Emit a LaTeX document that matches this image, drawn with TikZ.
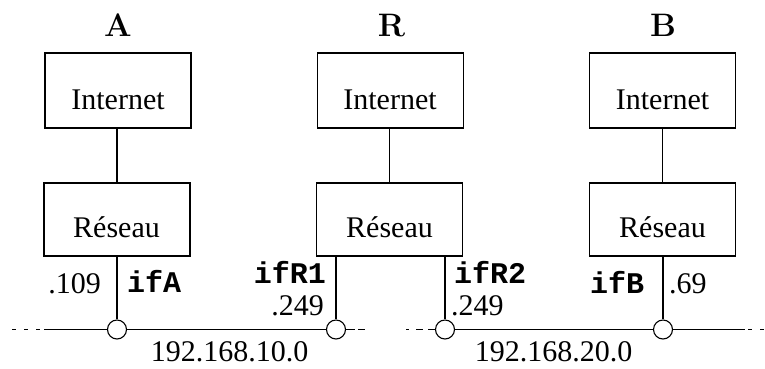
\documentclass[tikz,border=0pt]{standalone}
\usepackage{fontspec}
\newfontfamily\labfont{Liberation Serif}
\setmonofont{Liberation Mono}
\begin{document}
\begin{tikzpicture}[x=1pt,y=-1pt,
  layer/.style={draw, line width=1.3pt, minimum width=146pt, inner sep=0pt},
  port/.style={circle, draw, line width=1.1pt, minimum size=19pt, inner sep=0pt, fill=white},
  wire/.style={line width=1.3pt},
  txt/.style={font=\labfont\fontsize{30}{36}\selectfont, inner sep=0pt},
  iface/.style={font=\ttfamily\bfseries\fontsize{30}{36}\selectfont, inner sep=0pt},
  host/.style={font=\fontsize{32.5}{38}\selectfont\bfseries, inner sep=0pt}]
\useasboundingbox (0,0) rectangle (765,368);

% host titles
\node[host, anchor=base] (hA) at (118,36) {A};
\node[host, anchor=base] (hR) at (391.5,36) {R};
\node[host, anchor=base] (hB) at (663,36) {B};

% protocol layers
\node[layer, minimum height=75pt] (inetA) at (118,90.5) {};
\node[layer, minimum height=73pt] (resA)  at (117,219.5) {};
\node[layer, minimum height=75pt] (inetR) at (390.5,90.5) {};
\node[layer, minimum height=73pt] (resR)  at (389.5,219.5) {};
\node[layer, minimum height=75pt] (inetB) at (662.5,90.5) {};
\node[layer, minimum height=73pt] (resB)  at (662.5,219.5) {};

\node[txt, anchor=base] (tInetA) at (118,109) {Internet};
\node[txt, anchor=base] (tResA)  at (116.5,237) {Réseau};
\node[txt, anchor=base] (tInetR) at (390,109) {Internet};
\node[txt, anchor=base] (tResR)  at (389.5,237) {Réseau};
\node[txt, anchor=base] (tInetB) at (662.5,109) {Internet};
\node[txt, anchor=base] (tResB)  at (662.5,237) {Réseau};

\draw[wire] (resA.north)  -- (resA.north |- inetA.south);
\draw[wire] (resR.north)  -- (resR.north |- inetR.south);
\draw[wire] (resB.north)  -- (resB.north |- inetB.south);

% interfaces on the two links
\node[port] (ifA)  at (117,329.5) {};
\node[port] (ifR1) at (336,329.5) {};
\node[port] (ifR2) at (445,329.5) {};
\node[port] (ifB)  at (663,329.5) {};

\draw[wire] (ifA.north)  -- (ifA.north |- resA.south);
\draw[wire] (ifR1.north) -- (ifR1.north |- resR.south);
\draw[wire] (ifR2.north) -- (ifR2.north |- resR.south);
\draw[wire] (ifB.north)  -- (ifB.north |- resB.south);

% link 192.168.10.0
\coordinate (busAL) at (12,329.5);
\coordinate (busR1R) at (365,329.5);
\draw[wire, dash pattern=on 4pt off 8pt on 4pt off 8pt on 4pt off 4pt on 200pt off 0pt] (busAL) -- (ifA);
\draw[wire] (ifA) -- (ifR1);
\draw[wire, dash pattern=on 9pt off 3pt on 7pt off 50pt] (ifR1) -- (busR1R);

% link 192.168.20.0
\coordinate (busR2L) at (406,329.5);
\coordinate (busBR) at (764,329.5);
\draw[wire, dash pattern=on 3pt off 7pt on 7pt off 5pt on 50pt off 0pt] (busR2L) -- (ifR2);
\draw[wire] (ifR2) -- (ifB);
\draw[wire, dash pattern=on 72pt off 3pt on 4pt off 8pt on 4pt off 50pt] (ifB) -- (busBR);

% addresses and interface names
\node[txt, anchor=base east] (adA) at (101,293) {.109};
\node[iface, anchor=base west] (nA) at (127,292) {ifA};
\node[iface, anchor=base east] (nR1) at (326,283) {ifR1};
\node[txt, anchor=base east] (adR1) at (324,315) {.249};
\node[iface, anchor=base west] (nR2) at (454,283) {ifR2};
\node[txt, anchor=base west] (adR2) at (451,315) {.249};
\node[iface, anchor=base west] (nB) at (590,293) {ifB};
\node[txt, anchor=base west] (adB) at (669,293) {.69};

\node[txt, anchor=base] (net1) at (229.5,361) {192.168.10.0};
\node[txt, anchor=base] (net2) at (553.5,361) {192.168.20.0};
\end{tikzpicture}
\end{document}
